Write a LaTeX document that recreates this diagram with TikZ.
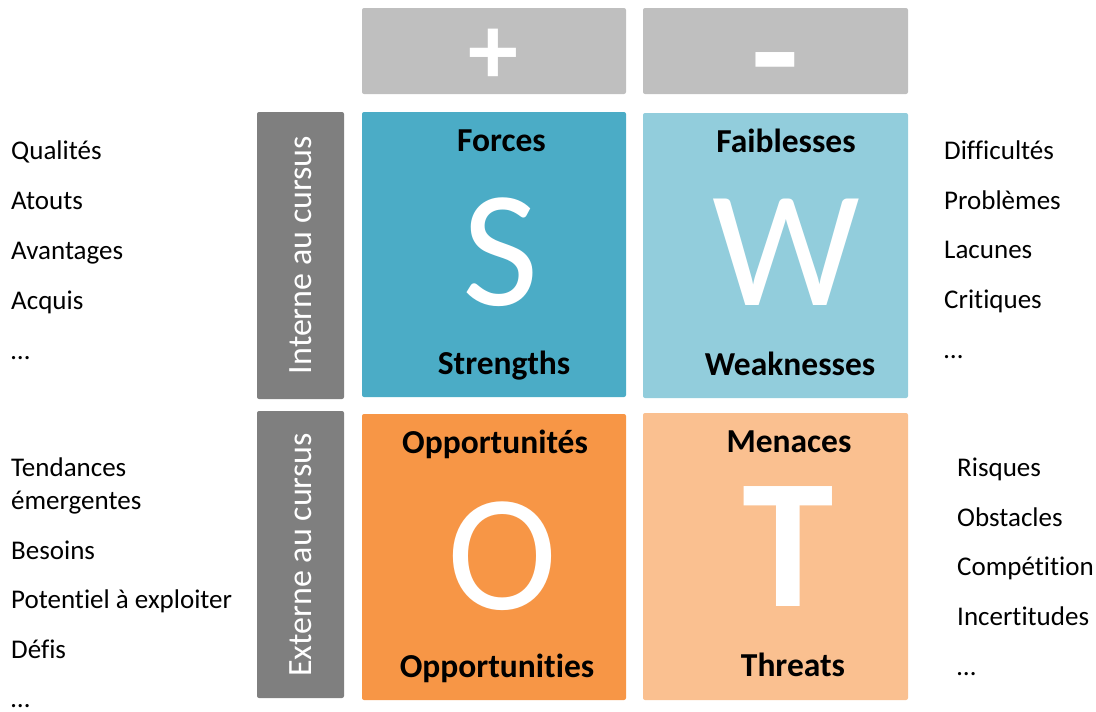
\documentclass[tikz,border=0pt]{standalone}
\usepackage{fontspec}
\setmainfont{Carlito}[Ligatures=NoCommon]
\definecolor{cS}{HTML}{4BACC6}
\definecolor{cW}{HTML}{92CDDC}
\definecolor{cO}{HTML}{F79646}
\definecolor{cT}{HTML}{FAC090}
\definecolor{gTop}{HTML}{BFBFBF}
\definecolor{gSide}{HTML}{7F7F7F}
\begin{document}
\begin{tikzpicture}[x=1pt,y=-1pt,
  box/.style={draw=none, rounded corners=2pt, inner sep=0},
  lst/.style={anchor=base west, inner sep=0, font=\fontsize{27}{32}\selectfont},
  lbl/.style={anchor=base, inner sep=0, font=\fontsize{33.5}{38}\selectfont\bfseries},
  big/.style={anchor=base, inner sep=0, text=white, font=\fontsize{166}{170}\selectfont},
  side/.style={rotate=90, inner sep=0, text=white, font=\fontsize{34}{38}\selectfont},
  sign/.style={inner sep=0, text=white, font=\fontsize{100}{100}\selectfont\bfseries}]
\useasboundingbox (0,0) rectangle (1096,712);
% boxes
\node[box, fill=gTop, minimum width=264pt, minimum height=86pt] (plus) at (494,51) {};
\node[box, fill=gTop, minimum width=265pt, minimum height=86pt] (minus) at (775.5,51) {};
\node[box, fill=cS, minimum width=264pt, minimum height=285pt] (S) at (494,254.5) {};
\node[box, fill=cW, minimum width=265pt, minimum height=285pt] (W) at (775.5,255.5) {};
\node[box, fill=cO, minimum width=264pt, minimum height=286pt] (O) at (494,557) {};
\node[box, fill=cT, minimum width=265pt, minimum height=287pt] (T) at (775.5,556.5) {};
\node[box, fill=gSide, minimum width=87pt, minimum height=287pt] (int) at (300.5,255.5) {};
\node[box, fill=gSide, minimum width=87pt, minimum height=287pt] (ext) at (300.5,554.5) {};
% signs
\node[sign] (plussign) at (493,57) {+};
\node[sign] (minussign) at (775,54) {\smash{\raisebox{-56.5pt}{\scalebox{1}[1.6]{−}}}};
% side labels
\node[side] (intlbl) at (301,255) {Interne au cursus};
\node[side] (extlbl) at (301,555) {Externe au cursus};
% big letters
\node[big] (Sl) at (501,305.5) {S};
\node[big] (Wl) at (786,305) {W};
\node[big] (Ol) at (502,609) {O};
\node[big, font=\fontsize{185}{190}\selectfont\bfseries] (Tl) at (788,606) {T};
% labels
\node[lbl] (forces) at (501.5,151) {Forces};
\node[lbl] (strengths) at (504,374) {Strengths};
\node[lbl] (faib) at (786,152) {Faiblesses};
\node[lbl] (weak) at (790,375) {Weaknesses};
\node[lbl] (oppfr) at (495,453) {Opportunités};
\node[lbl] (oppen) at (497,677) {Opportunities};
\node[lbl] (men) at (789,452) {Menaces};
\node[lbl] (thr) at (793,676) {Threats};
% left lists
\node[lst] (l1) at (11,159.5) {Qualités};
\node[lst] (l2) at (11,209) {Atouts};
\node[lst] (l3) at (11,259) {Avantages};
\node[lst] (l4) at (11,309) {Acquis};
\node[lst] (l5) at (11,359) {…};
\node[lst] (l6) at (11,476.5) {Tendances};
\node[lst] (l7) at (11,509.5) {émergentes};
\node[lst] (l8) at (11,559.5) {Besoins};
\node[lst] (l9) at (11,608.5) {Potentiel à exploiter};
\node[lst] (l10) at (11,658) {Défis};
\node[lst] (l11) at (11,707.5) {…};
% right lists
\node[lst] (r1) at (944,159) {Difficultés};
\node[lst] (r2) at (944,209) {Problèmes};
\node[lst] (r3) at (944,258.5) {Lacunes};
\node[lst] (r4) at (944,308.5) {Critiques};
\node[lst] (r5) at (944,358) {…};
\node[lst] (r6) at (957,476) {Risques};
\node[lst] (r7) at (957,526) {Obstacles};
\node[lst] (r8) at (957,575.5) {Compétition};
\node[lst] (r9) at (957,625) {Incertitudes};
\node[lst] (r10) at (957,675) {…};
\end{tikzpicture}
\end{document}
